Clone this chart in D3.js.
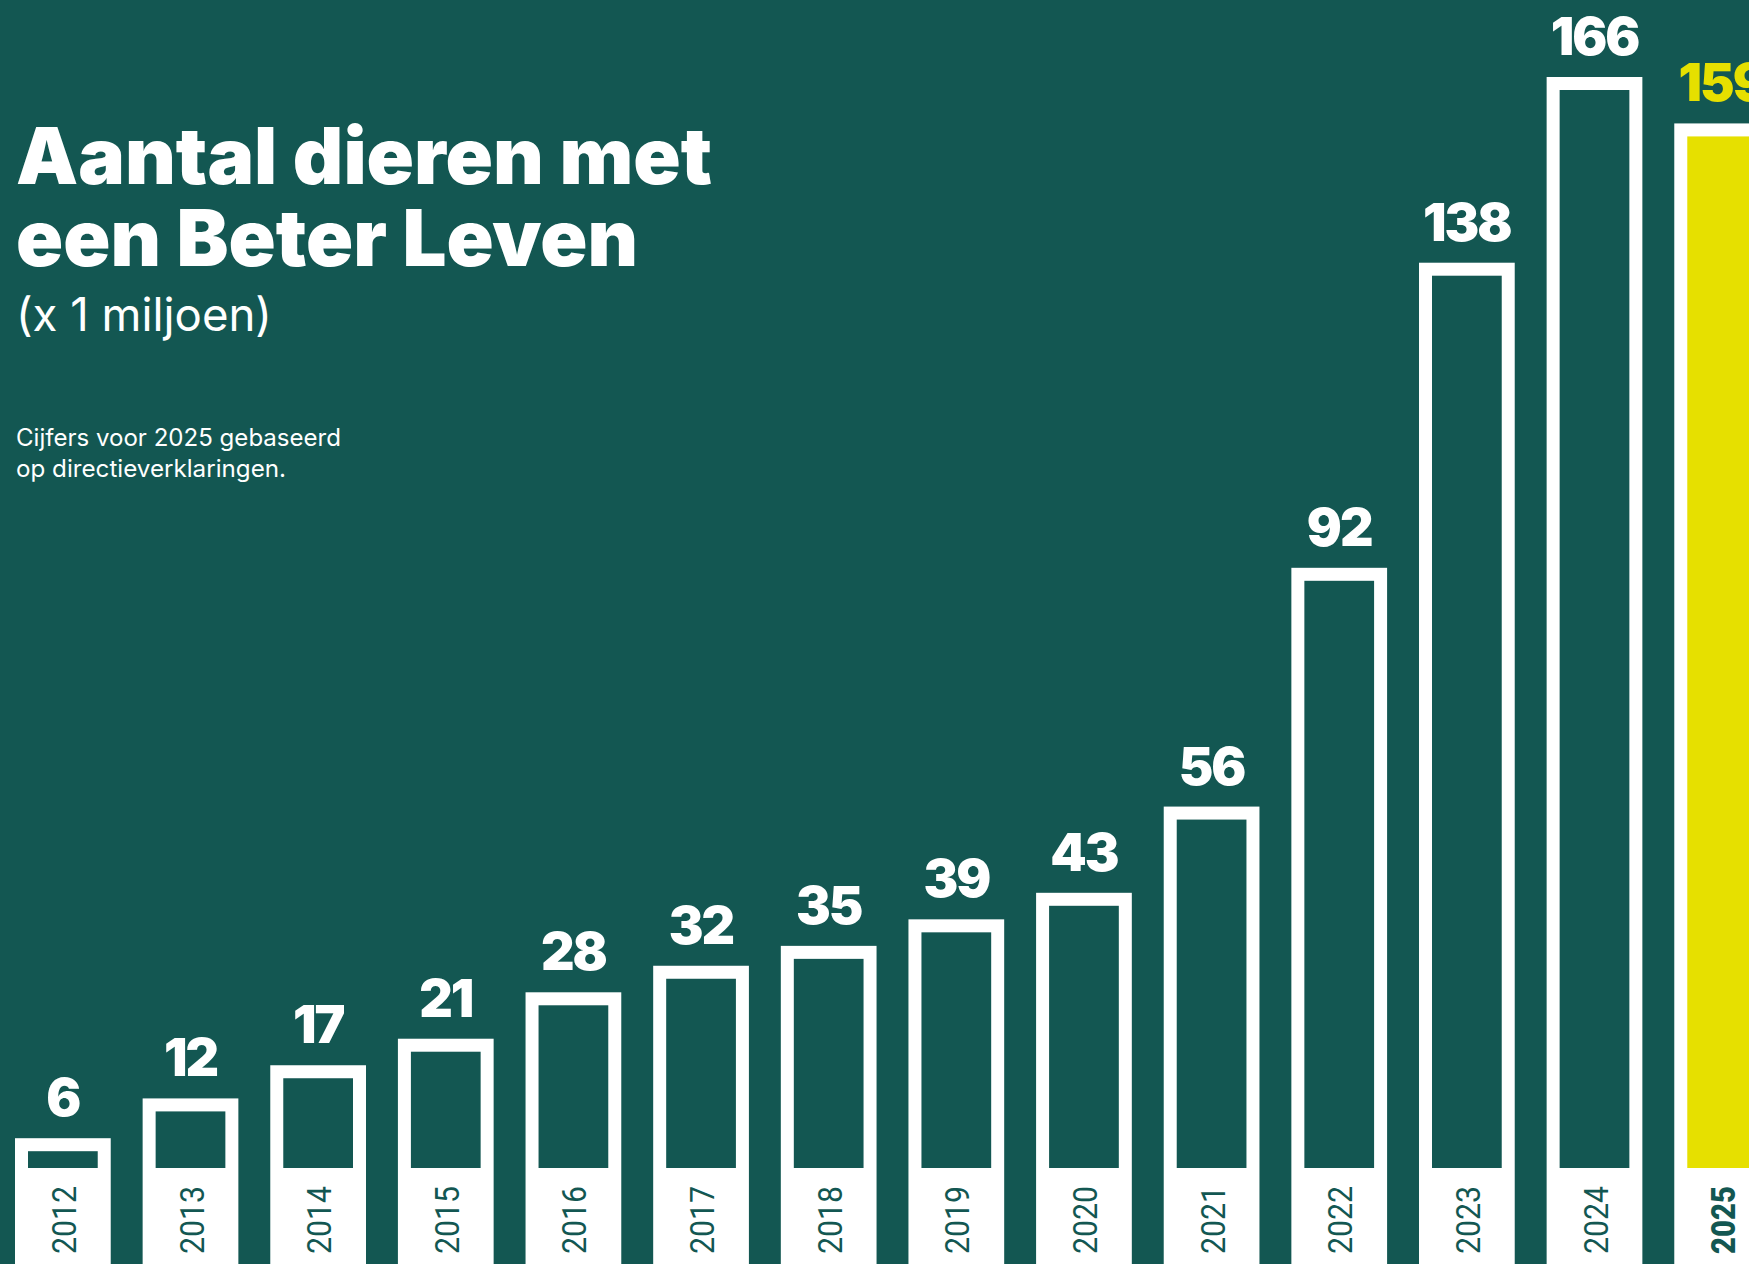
<!DOCTYPE html>
<html>
<head>
<meta charset="utf-8">
<script src="https://cdn.jsdelivr.net/npm/d3@7"></script>
<style>
  html, body { margin: 0; padding: 0; background: #135752; overflow: hidden; }
  svg { display: block; }
</style>
</head>
<body>
<div id="chart"></div>
<script>
// data (x 1 miljoen)
var years = ["2012","2013","2014","2015","2016","2017","2018","2019","2020","2021","2022","2023","2024","2025"];
var values = [6, 12, 17, 21, 28, 32, 35, 39, 43, 56, 92, 138, 166, 159];
var highlightYear = "2025";

var titleLines = ["Aantal dieren met", "een Beter Leven"];
var unitLabel = "(x 1 miljoen)";
var noteLines = ["Cijfers voor 2025 gebaseerd", "op directieverklaringen."];

var W = 1749, H = 1264;
var green = "#135752", yellow = "#e6e000", white = "#ffffff";
var border = 13, baseline = 1168;

var svg = d3.select("#chart").append("svg")
  .attr("width", W).attr("height", H);

svg.append("rect").attr("width", W).attr("height", H).attr("fill", green);

var data = years.map(function(y, i){ return {year: y, value: values[i]}; });

var x = d3.scaleBand()
  .domain(years)
  .range([15, 1770])
  .paddingInner(0.25)
  .paddingOuter(0);

var y = d3.scaleLinear()
  .domain([0, 166])
  .range([1178, 77]);

var bars = svg.selectAll("g.bar")
  .data(data)
  .enter().append("g")
  .attr("class", "bar");

/* white frame, runs down into the label box */
bars.append("rect")
  .attr("x", function(d){ return x(d.year); })
  .attr("y", function(d){ return y(d.value); })
  .attr("width", x.bandwidth())
  .attr("height", function(d){ return H - y(d.value); })
  .attr("fill", white);

/* inner fill */
bars.append("rect")
  .attr("x", function(d){ return x(d.year) + border; })
  .attr("y", function(d){ return y(d.value) + border; })
  .attr("width", x.bandwidth() - 2 * border)
  .attr("height", function(d){ return Math.max(0, baseline - y(d.value) - border); })
  .attr("fill", function(d){ return d.year === highlightYear ? yellow : green; });

/* value labels */
bars.append("text")
  .attr("x", function(d){ return x(d.year) + x.bandwidth() / 2; })
  .attr("y", function(d){ return y(d.value) - 22; })
  .attr("text-anchor", "middle")
  .attr("font-family", "Inter, 'Noto Sans', sans-serif")
  .attr("font-weight", 900)
  .attr("font-size", 52)
  .attr("letter-spacing", -2)
  .attr("fill", function(d){ return d.year === highlightYear ? yellow : white; })
  .text(function(d){ return d.value; });

/* year labels, rotated in the white box */
bars.append("text")
  .attr("transform", function(d){
    var cx = x(d.year) + x.bandwidth() / 2 + 13;
    return "translate(" + cx + "," + 1220 + ") rotate(-90)";
  })
  .attr("text-anchor", "middle")
  .attr("font-family", "Roboto, Inter, sans-serif")
  .attr("font-weight", function(d){ return d.year === highlightYear ? 900 : 400; })
  .attr("font-size", 33)
  .attr("textLength", 68)
  .attr("lengthAdjust", "spacingAndGlyphs")
  .attr("fill", green)
  .text(function(d){ return d.year; });

/* title block */
var title = svg.append("g").attr("fill", white);
var titleWidths = [696, 622];
title.selectAll("text.title")
  .data(titleLines)
  .enter().append("text")
  .attr("class", "title")
  .attr("x", 16)
  .attr("y", function(d, i){ return 184 + i * 82; })
  .attr("font-family", "Inter, 'Noto Sans', sans-serif")
  .attr("font-weight", 900)
  .attr("font-size", 78)
  .attr("textLength", function(d, i){ return titleWidths[i]; })
  .attr("lengthAdjust", "spacingAndGlyphs")
  .text(function(d){ return d; });

title.append("text")
  .attr("x", 16)
  .attr("y", 331)
  .attr("font-family", "Inter, 'Noto Sans', sans-serif")
  .attr("font-weight", 400)
  .attr("font-size", 46)
  .attr("textLength", 256)
  .attr("lengthAdjust", "spacingAndGlyphs")
  .text(unitLabel);

var noteWidths = [325, 270];
title.selectAll("text.note")
  .data(noteLines)
  .enter().append("text")
  .attr("class", "note")
  .attr("x", 16)
  .attr("y", function(d, i){ return 446 + i * 31; })
  .attr("font-family", "Inter, 'Noto Sans', sans-serif")
  .attr("font-weight", 400)
  .attr("font-size", 24)
  .attr("textLength", function(d, i){ return noteWidths[i]; })
  .attr("lengthAdjust", "spacingAndGlyphs")
  .text(function(d){ return d; });
</script>
</body>
</html>
